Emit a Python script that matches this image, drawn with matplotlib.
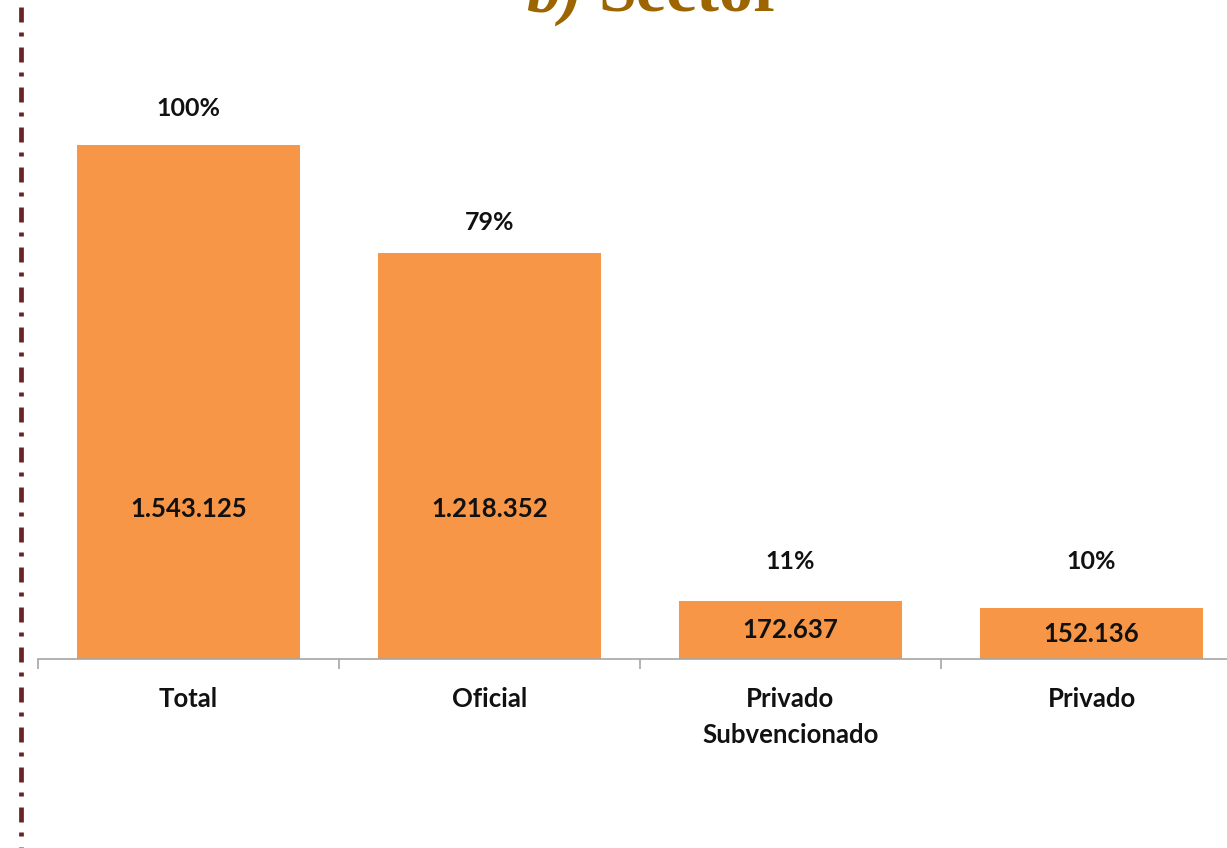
import matplotlib.pyplot as plt
from matplotlib.lines import Line2D

plt.rcParams['font.family'] = ['Lato', 'DejaVu Sans']
plt.rcParams['lines.scale_dashes'] = False

categories = ["Total", "Oficial", "Privado\nSubvencionado", "Privado"]
values = [1543125, 1218352, 172637, 152136]
value_labels = ["1.543.125", "1.218.352", "172.637", "152.136"]
pct_labels = ["100%", "79%", "11%", "10%"]

bar_color = "#F79646"
text_color = "#111111"
W, H = 1227, 848

fig = plt.figure(figsize=(W / 100, H / 100), dpi=100)

# axes placed in pixel terms: spine at y=659, left edge x=38, one category = 301 px
ax_left, ax_bottom, ax_top = 38, 659, 100
ax = fig.add_axes([ax_left / W, 1 - ax_bottom / H, (W - ax_left) / W, (ax_bottom - ax_top) / H])

x = range(len(categories))
bars = ax.bar(x, values, width=0.74, color=bar_color)

# percentage labels above, value labels inside
pct_offsets = [26, 22, 29, 34]
for i, (v, p, lab) in enumerate(zip(values, pct_labels, value_labels)):
    ax.annotate(p, (i, v), xytext=(0, pct_offsets[i]), textcoords="offset points",
                ha="center", va="center", fontsize=18, fontweight="bold", color=text_color)
    ax.text(i, min(v / 2, 450000), lab, ha="center", va="center",
            fontsize=18.5, fontweight="bold", color=text_color)

for s in ["top", "right", "left"]:
    ax.spines[s].set_visible(False)
ax.spines["bottom"].set_color("#A6A6A6")
ax.spines["bottom"].set_linewidth(1.2)
ax.set_yticks([])

ax.set_xticks(list(x))
ax.set_xticklabels(categories, fontsize=18.5, fontweight="bold", color=text_color, linespacing=1.6)
ax.tick_params(axis="x", which="major", length=0, pad=20.5)
ax.set_xticks([-0.5, 0.5, 1.5, 2.5], minor=True)
ax.tick_params(axis="x", which="minor", length=7, width=1.2, color="#A6A6A6")

px_per_unit = 514 / values[0]
ax.set_ylim(0, (ax_bottom - ax_top) / px_per_unit)
ax.set_xlim(-0.5, -0.5 + (W - ax_left) / 301)

# title, cut off at the top edge
fig.text(583 / W, 1 - 12 / H, "b)", ha="right", va="baseline", fontsize=49,
         fontstyle="italic", fontweight="bold", family="Liberation Serif", color="#9C6500")
fig.text(598 / W, 1 - 12 / H, "Sector", ha="left", va="baseline", fontsize=49,
         fontweight="bold", family="Liberation Serif", color="#9C6500")

# dashed border on the left
fig.add_artist(Line2D([21 / W, 21 / W], [1 - 7 / H, 0], transform=fig.transFigure,
                      color="#6B2226", linewidth=3.4, linestyle=(0, (10.8, 7.2, 2.9, 7.9))))

fig.savefig("out.png", dpi=100)
